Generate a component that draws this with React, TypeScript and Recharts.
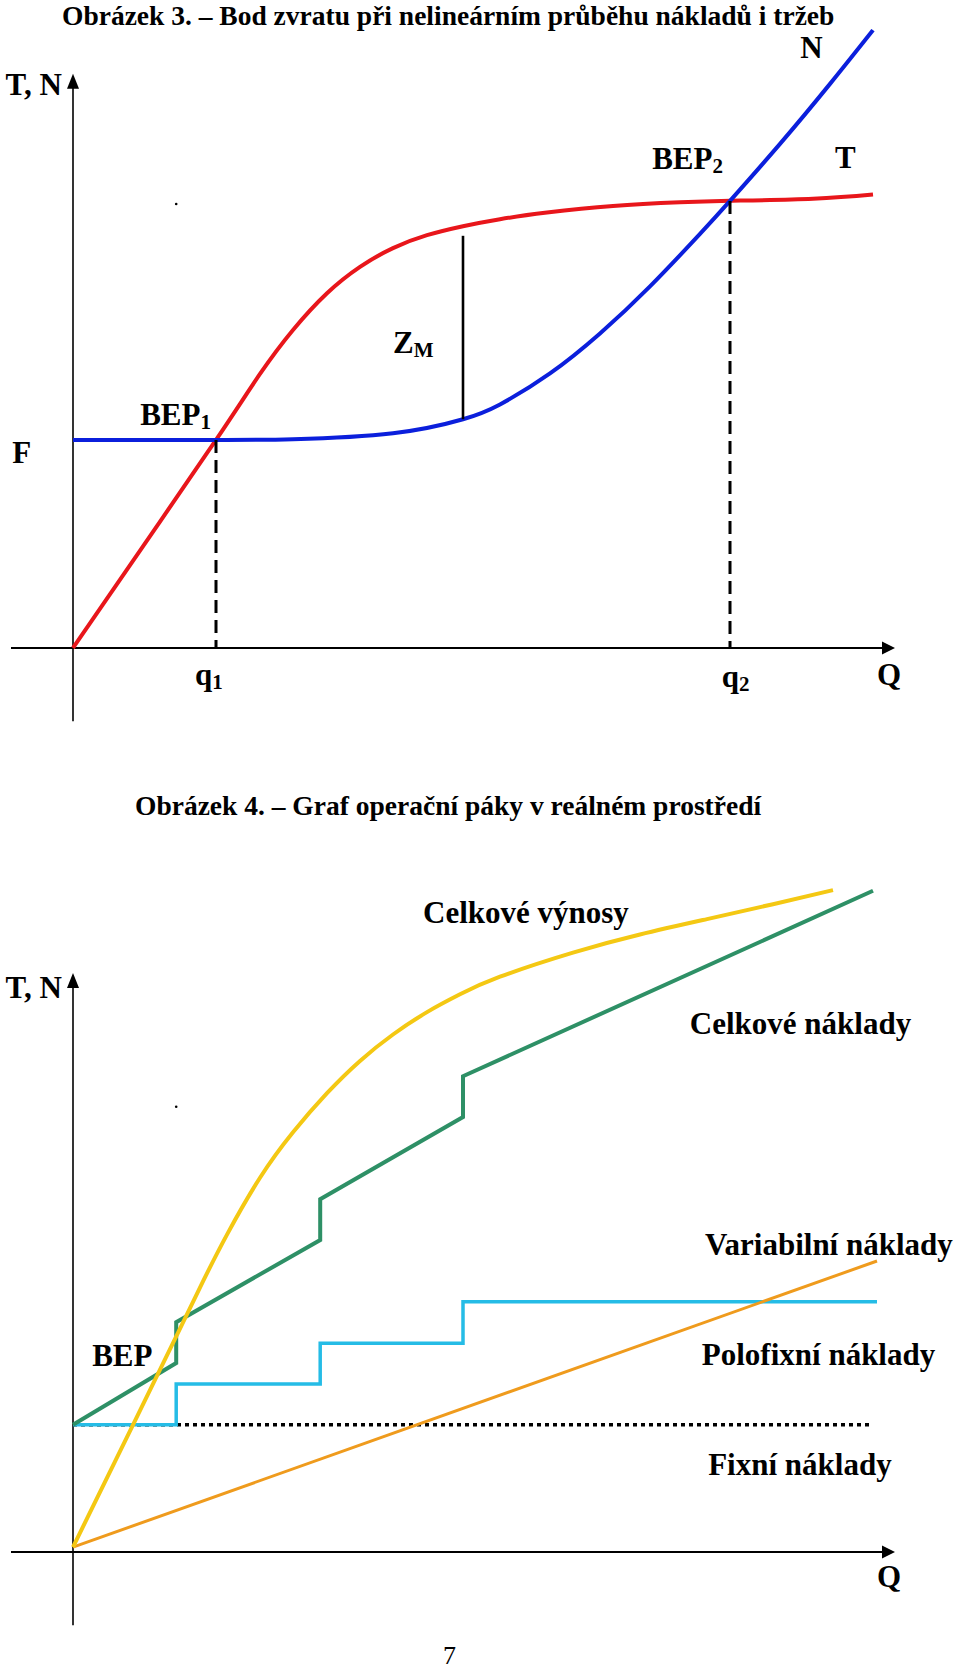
import {
  ComposedChart,
  Line,
  ReferenceDot,
  ReferenceLine,
  XAxis,
  YAxis,
} from "recharts";

const SERIF = "'Liberation Serif', 'Times New Roman', serif";

// Obrázek 3 – tržby (T) a náklady (N) v závislosti na objemu Q
const T_Q = [0, 8.94, 17.875, 23.375, 27.5, 31.75, 35.875, 40, 44.25, 48.75, 53.375, 59.25, 67.5, 75.875, 82.125, 92.5, 100];
const T_VAL = [0, 17.33, 34.67, 45.67, 53, 59.12, 63.52, 66.65, 68.8, 70.3, 71.47, 72.57, 73.67, 74.28, 74.53, 74.88, 75.58];
const N_Q = [0, 17.75, 27.5, 40, 48.75, 53.375, 59.625, 65.875, 72.125, 78.375, 82.125, 88.375, 94.625, 100];
const N_VAL = [34.67, 34.67, 34.8, 35.8, 38.13, 40.6, 45.77, 52.43, 60.27, 69.02, 74.52, 84.02, 94.02, 102.98];
const BEP1 = { q: 17.875, v: 34.67 };
const BEP2 = { q: 82.125, v: 74.52 };
const ZM = { q: 48.75, from: 38.13, to: 68.7 };

// Obrázek 4 – operační páka
const VYNOSY_Q = [0, 7.5, 12.875, 16.25, 19.25, 23.375, 27.5, 31.75, 35.875, 40, 44.25, 48.375, 53.375, 62.5, 70.875, 79.25, 87.5, 95];
const VYNOSY = [0.83, 21.17, 35.87, 45.1, 52.9, 62.37, 69.95, 76.47, 81.85, 86.25, 89.98, 92.95, 95.88, 99.9, 102.92, 105.48, 107.97, 110.32];
const CELK_Q = [0, 12.9, 12.9, 30.9, 30.9, 48.75, 48.75, 100];
const CELK = [21.2, 31.5, 38.3, 52, 58.8, 72.5, 79.3, 110.2];
const POLOFIX_Q = [0, 12.9, 12.9, 30.9, 30.9, 48.75, 48.75, 100.5];
const POLOFIX = [21.2, 21.2, 28, 28, 34.8, 34.8, 41.7, 41.7];
const VARIAB_Q = [0, 100.5];
const VARIAB = [0.8, 48.5];
const FIX_Q = [0, 100];
const FIX = [21.2, 21.2];

const zip = (q: number[], v: number[]) => q.map((x, i) => ({ x, y: v[i] }));

const arrowUp = ({ cx, cy }: any) => (
  <polygon points={`${cx},${cy} ${cx - 6},${cy + 15} ${cx + 6},${cy + 15}`} fill="#000" />
);
const arrowRight = ({ cx, cy }: any) => (
  <polygon points={`${cx},${cy} ${cx - 13},${cy - 6.5} ${cx - 13},${cy + 6.5}`} fill="#000" />
);

function label(key: string, x: number, y: number, text: string, sub?: string, anchor = "start") {
  return (
    <ReferenceDot
      key={key}
      x={x}
      y={y}
      r={1}
      ifOverflow="visible"
      shape={({ cx, cy }: any) => (
        <text x={cx} y={cy} textAnchor={anchor} fontFamily={SERIF} fontWeight="bold" fontSize={31} fill="#000">
          {text}
          {sub && (
            <tspan fontSize={21} dy={4}>
              {sub}
            </tspan>
          )}
        </text>
      )}
    />
  );
}

function axes(yTop: number) {
  return [
    <ReferenceLine key="ax" segment={[{ x: -7.75, y: 0 }, { x: 102.5, y: 0 }]} stroke="#000" strokeWidth={2} />,
    <ReferenceLine key="ay" segment={[{ x: 0, y: -12.2 }, { x: 0, y: yTop - 1 }]} stroke="#000" strokeWidth={1.6} />,
    <ReferenceDot key="arx" x={102.75} y={0} r={1} shape={arrowRight} ifOverflow="visible" />,
    <ReferenceDot key="ary" x={0} y={yTop} r={1} shape={arrowUp} ifOverflow="visible" />,
  ];
}

const titleStyle = {
  position: "absolute" as const,
  fontFamily: SERIF,
  fontWeight: "bold",
  fontSize: 27.5,
  lineHeight: 1,
  whiteSpace: "nowrap" as const,
  color: "#000",
};

function BreakEvenChart() {
  return (
    <ComposedChart width={960} height={740} margin={{ top: 18, right: 55, bottom: 17, left: 9 }}>
      <XAxis type="number" dataKey="x" domain={[-8, 104]} hide allowDataOverflow />
      <YAxis type="number" dataKey="y" domain={[-12.5, 105]} hide allowDataOverflow />
      {axes(95.7)}
      <Line data={zip(T_Q, T_VAL)} dataKey="y" type="natural" stroke="#e8161b" strokeWidth={4} dot={false} isAnimationActive={false} />
      <Line data={zip(N_Q, N_VAL)} dataKey="y" type="natural" stroke="#0b1fdc" strokeWidth={4} dot={false} isAnimationActive={false} />
      <ReferenceLine segment={[{ x: BEP1.q, y: BEP1.v }, { x: BEP1.q, y: 0 }]} stroke="#000" strokeWidth={3} strokeDasharray="13 7" />
      <ReferenceLine segment={[{ x: BEP2.q, y: BEP2.v }, { x: BEP2.q, y: 0 }]} stroke="#000" strokeWidth={3} strokeDasharray="13 7" />
      <ReferenceLine segment={[{ x: ZM.q, y: ZM.from }, { x: ZM.q, y: ZM.to }]} stroke="#000" strokeWidth={2.6} />
      <ReferenceDot x={12.9} y={74} r={1.3} fill="#000" stroke="none" />
      {label("tn", -1.4, 92.2, "T, N", undefined, "end")}
      {label("n", 90.9, 98.3, "N")}
      {label("bep2", 72.4, 79.8, "BEP", "2")}
      {label("t", 95.25, 80, "T")}
      {label("zm", 40, 49.2, "Z", "M")}
      {label("bep1", 8.4, 37.2, "BEP", "1")}
      {label("f", -7.6, 30.8, "F")}
      {label("q1", 15.25, -6.2, "q", "1")}
      {label("q2", 81.1, -6.5, "q", "2")}
      {label("q", 100.5, -6.2, "Q")}
    </ComposedChart>
  );
}

function LeverageChart() {
  return (
    <ComposedChart width={960} height={790} margin={{ top: 12, right: 55, bottom: 13, left: 9 }}>
      <XAxis type="number" dataKey="x" domain={[-8, 104]} hide allowDataOverflow />
      <YAxis type="number" dataKey="y" domain={[-12.5, 115]} hide allowDataOverflow />
      {axes(96.5)}
      <Line data={zip(FIX_Q, FIX)} dataKey="y" type="linear" stroke="#000" strokeWidth={3.5} strokeDasharray="4 4" dot={false} isAnimationActive={false} />
      <Line data={zip(POLOFIX_Q, POLOFIX)} dataKey="y" type="linear" stroke="#25bce6" strokeWidth={3.5} dot={false} isAnimationActive={false} />
      <Line data={zip(CELK_Q, CELK)} dataKey="y" type="linear" stroke="#2e9066" strokeWidth={4} dot={false} isAnimationActive={false} />
      <Line data={zip(VARIAB_Q, VARIAB)} dataKey="y" type="linear" stroke="#ef9b1d" strokeWidth={3} dot={false} isAnimationActive={false} />
      <Line data={zip(VYNOSY_Q, VYNOSY)} dataKey="y" type="natural" stroke="#f4c813" strokeWidth={4} dot={false} isAnimationActive={false} />
      <ReferenceDot x={12.9} y={74.2} r={1.3} fill="#000" stroke="none" />
      {label("cv", 43.75, 104.8, "Celkové výnosy")}
      {label("tn", -1.4, 92.3, "T, N", undefined, "end")}
      {label("cn", 77.1, 86.3, "Celkové náklady")}
      {label("vn", 79, 49.5, "Variabilní náklady")}
      {label("bep", 2.4, 31, "BEP")}
      {label("pn", 78.6, 31.2, "Polofixní náklady")}
      {label("fn", 79.4, 12.8, "Fixní náklady")}
      {label("q", 100.5, -5.8, "Q")}
    </ComposedChart>
  );
}

export default function App() {
  return (
    <div style={{ position: "absolute", left: 0, top: 0, width: 960, height: 1670, background: "#fff", overflow: "hidden" }}>
      <div style={{ ...titleStyle, left: 62, top: 2 }}>
        Obrázek 3. – Bod zvratu při nelineárním průběhu nákladů i tržeb
      </div>
      <div style={{ position: "absolute", left: 0, top: 0 }}>
        <BreakEvenChart />
      </div>
      <div style={{ ...titleStyle, left: 135, top: 792 }}>
        Obrázek 4. – Graf operační páky v reálném prostředí
      </div>
      <div style={{ position: "absolute", left: 0, top: 850 }}>
        <LeverageChart />
      </div>
      <div style={{ ...titleStyle, fontWeight: "normal", fontSize: 26, left: 443, top: 1643 }}>7</div>
    </div>
  );
}
